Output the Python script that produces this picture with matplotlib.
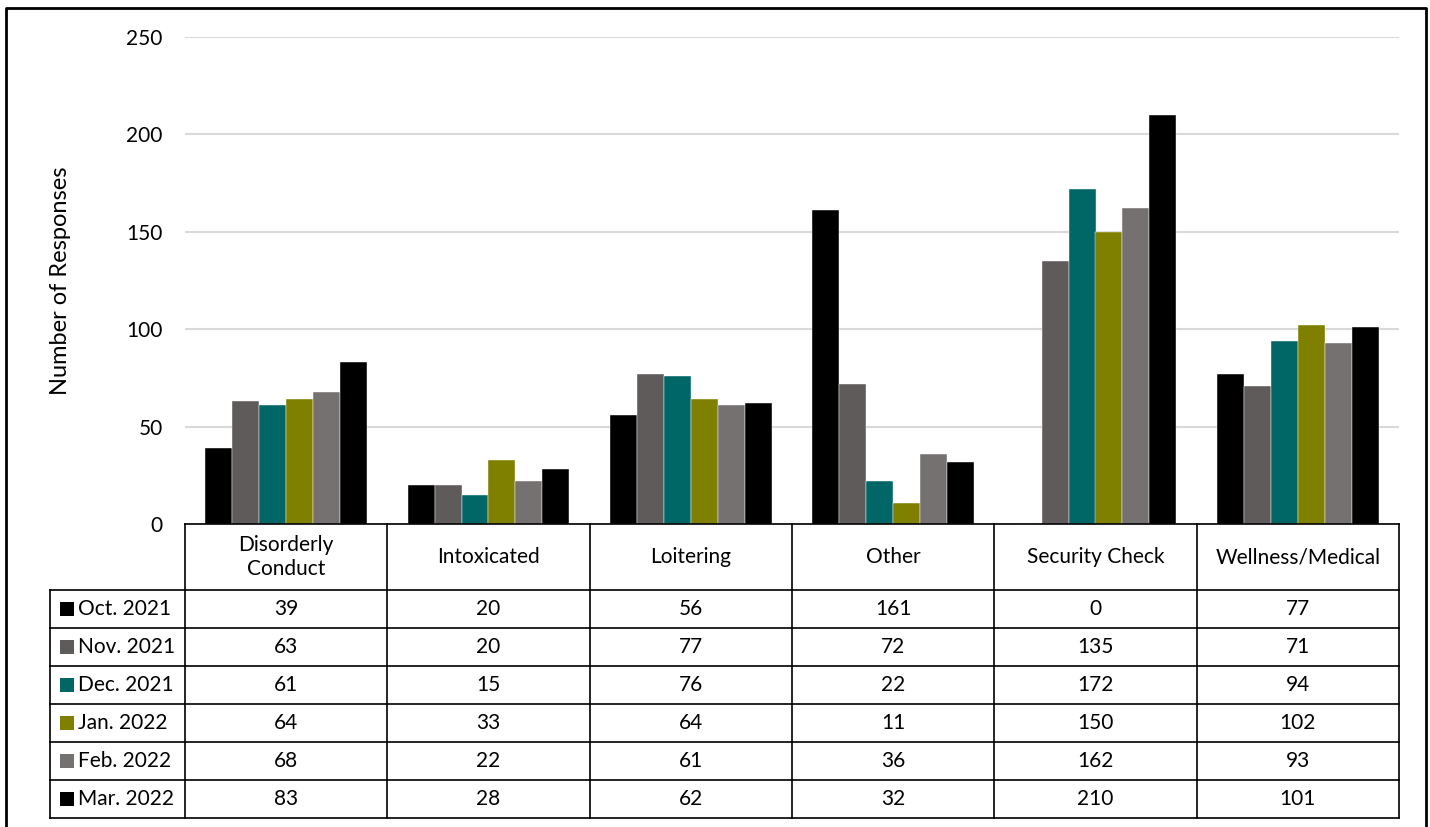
import numpy as np
import matplotlib.pyplot as plt
from matplotlib.patches import Rectangle

plt.rcParams['font.family'] = ['Lato', 'DejaVu Sans']

categories = ['Disorderly\nConduct', 'Intoxicated', 'Loitering', 'Other',
              'Security Check', 'Wellness/Medical']
months = ['Oct. 2021', 'Nov. 2021', 'Dec. 2021', 'Jan. 2022', 'Feb. 2022', 'Mar. 2022']
oct21 = [39, 20, 56, 161, 0, 77]
nov21 = [63, 20, 77, 72, 135, 71]
dec21 = [61, 15, 76, 22, 172, 94]
jan22 = [64, 33, 64, 11, 150, 102]
feb22 = [68, 22, 61, 36, 162, 93]
mar22 = [83, 28, 62, 32, 210, 101]
series = [oct21, nov21, dec21, jan22, feb22, mar22]
colors = ['#000000', '#5f5b5a', '#006666', '#808000', '#767171', '#000000']

W, H = 1430, 827
fig = plt.figure(figsize=(W / 100, H / 100), dpi=100)
FS = 15

# plot area in pixels
x0, x1, ytop, ybot = 185, 1399, 37, 524
ax = fig.add_axes([x0 / W, 1 - ybot / H, (x1 - x0) / W, (ybot - ytop) / H])

n = len(categories)
x = np.arange(n)
bw = 0.8 / len(series)
for i, (vals, c) in enumerate(zip(series, colors)):
    ax.bar(x - 0.4 + bw * (i + 0.5), vals, width=bw, color=c, zorder=3,
           edgecolor='white', linewidth=0.3)

ax.set_xlim(-0.5, n - 0.5)
ax.set_ylim(0, 250)
ax.set_yticks(range(0, 251, 50))
ax.yaxis.grid(True, color='#d9d9d9', linewidth=1.5, zorder=0)
ax.tick_params(axis='y', length=0, labelsize=FS, pad=16)
ax.set_xticks([])
for s in ['top', 'right', 'left', 'bottom']:
    ax.spines[s].set_visible(False)
ax.set_ylabel('Number of Responses', fontsize=17, labelpad=40)

# data table below the plot
def fy(py):
    return 1 - py / H

def fx(px):
    return px / W

tf = fig.transFigure
col_edges = [x0 + (x1 - x0) * k / n for k in range(n + 1)]
row_edges = [524, 590, 628, 666, 704, 742, 780, 818]
lab_left = 50
lw = 1.2
# horizontal lines
fig.add_artist(plt.Line2D([fx(x0), fx(x1)], [fy(row_edges[0])] * 2, transform=tf, color='black', lw=lw))
for ry in row_edges[1:]:
    fig.add_artist(plt.Line2D([fx(lab_left), fx(x1)], [fy(ry)] * 2, transform=tf, color='black', lw=lw))
# vertical lines
for cx in col_edges:
    fig.add_artist(plt.Line2D([fx(cx)] * 2, [fy(row_edges[0]), fy(row_edges[-1])], transform=tf, color='black', lw=lw))
fig.add_artist(plt.Line2D([fx(lab_left)] * 2, [fy(row_edges[1]), fy(row_edges[-1])], transform=tf, color='black', lw=lw))

# header
for k, cat in enumerate(categories):
    cx = (col_edges[k] + col_edges[k + 1]) / 2
    cy = (row_edges[0] + row_edges[1]) / 2
    fig.text(fx(cx), fy(cy), cat, ha='center', va='center', fontsize=FS, linespacing=1.2)

# rows
for r, (m, vals, c) in enumerate(zip(months, series, colors)):
    cy = (row_edges[r + 1] + row_edges[r + 2]) / 2
    fig.add_artist(Rectangle((fx(60), fy(cy + 7)), 14 / W, 14 / H, transform=tf,
                             facecolor=c, edgecolor='none'))
    fig.text(fx(78), fy(cy), m, ha='left', va='center', fontsize=FS)
    for k, v in enumerate(vals):
        cx = (col_edges[k] + col_edges[k + 1]) / 2
        fig.text(fx(cx), fy(cy), str(v), ha='center', va='center', fontsize=FS)

# outer border
fig.add_artist(plt.Line2D([fx(6), fx(6), fx(1426), fx(1426)], [0, fy(8), fy(8), 0],
                          transform=tf, color='black', lw=2))

fig.savefig('out.png', dpi=100)
